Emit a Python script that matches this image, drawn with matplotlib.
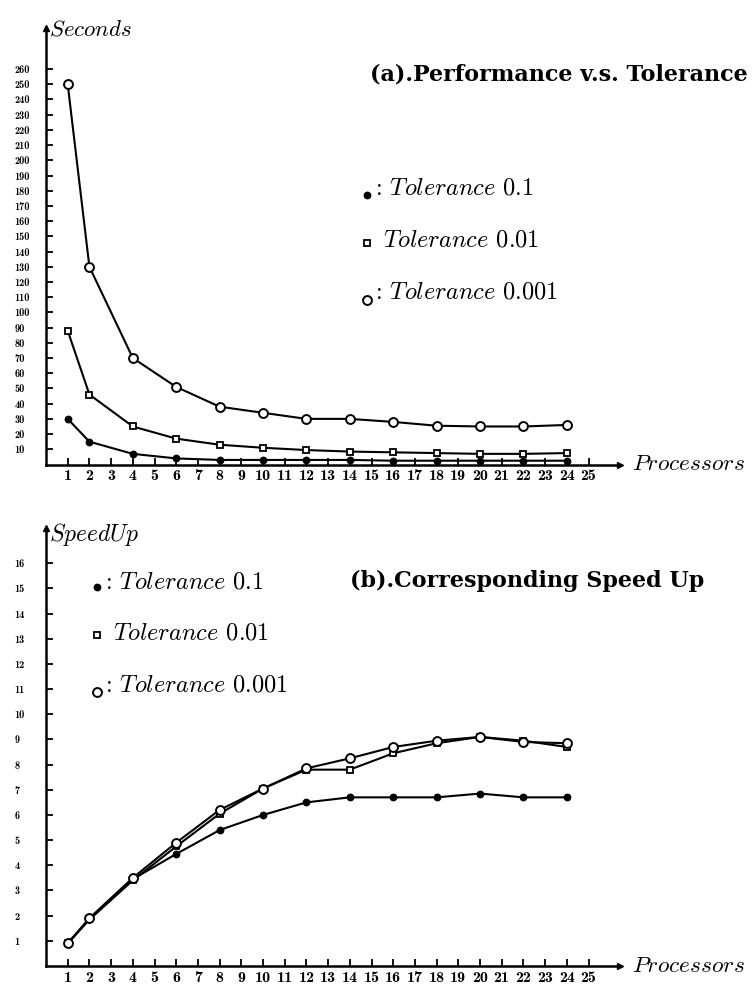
"""
Recreate the two-panel parallel performance figure:
(a) run time vs. processors for three tolerances,
(b) the corresponding speed-up curves.
"""

import matplotlib
matplotlib.use("Agg")
import matplotlib.pyplot as plt

# -- Data ---------------------------------------------------------------------

procs = [1, 2, 4, 6, 8, 10, 12, 14, 16, 18, 20, 22, 24]

sec_tol_1   = [30, 15, 7, 4, 3, 3, 3, 3, 2.5, 2.5, 2.5, 2.5, 2.5]
sec_tol_01  = [88, 46, 25, 17, 13, 11, 9.5, 8.5, 8, 7.5, 7, 7, 7.5]
sec_tol_001 = [250, 130, 70, 51, 38, 34, 30, 30, 28, 25.5, 25, 25, 26]

spd_tol_1   = [0.9, 1.85, 3.45, 4.45, 5.4, 6.0, 6.5, 6.7, 6.7, 6.7, 6.85, 6.7, 6.7]
spd_tol_01  = [0.9, 1.85, 3.4, 4.75, 6.05, 7.05, 7.8, 7.8, 8.45, 8.85, 9.1, 8.95, 8.7]
spd_tol_001 = [0.9, 1.9, 3.5, 4.9, 6.2, 7.05, 7.85, 8.25, 8.7, 8.95, 9.1, 8.9, 8.85]

x_ticks      = list(range(1, 26))
sec_ticks    = list(range(10, 261, 10))
spd_ticks    = list(range(1, 17))
legend_names = ["0.1", "0.01", "0.001"]

# -- Style ---------------------------------------------------------------------

plt.rcParams["mathtext.fontset"] = "cm"
plt.rcParams["font.family"] = ["cmr10", "DejaVu Serif"]
plt.rcParams["axes.unicode_minus"] = False

W, H = 753, 994
TITLE_FONT = dict(family="DejaVu Serif", weight="bold", size=16)


def fx(x, y):
    # pixel position -> figure fraction
    return x / W, 1 - y / H


STYLES = [
    dict(marker="o", ms=4.6, mfc="k", mec="k"),
    dict(marker="s", ms=5.0, mfc="white", mec="k", mew=1.3),
    dict(marker="o", ms=6.4, mfc="white", mec="k", mew=1.4),
]

fig = plt.figure(figsize=(W / 100, H / 100), dpi=100)
ax1 = fig.add_axes([46 / W, 1 - 464.5 / H, 574 / W, 436.5 / H])
ax2 = fig.add_axes([46 / W, 1 - 966 / H, 574 / W, 438 / H])


def style_axes(ax, ymax, yticks):
    ax.set_xlim(0, 26.45)
    ax.set_ylim(0, ymax)
    for s in ["top", "right"]:
        ax.spines[s].set_visible(False)
    for s in ["left", "bottom"]:
        ax.spines[s].set_linewidth(1.8)
    ax.set_xticks(x_ticks)
    ax.set_xticklabels([str(t) for t in x_ticks], fontfamily="cmb10",
                       fontsize=11.5)
    ax.set_yticks(yticks)
    ax.set_yticklabels([str(t) for t in yticks], fontfamily="cmb10",
                       fontsize=7.5, ha="left")
    ax.tick_params(axis="x", direction="in", length=5, width=1.3, pad=3.5)
    ax.tick_params(axis="y", direction="in", length=5, width=1.3, pad=22.5)
    # arrow heads at the end of both axes
    ax.plot([1], [0], marker=">", ms=4.5, color="k", transform=ax.transAxes,
            clip_on=False)
    ax.plot([0], [1], marker="^", ms=4.5, color="k", transform=ax.transAxes,
            clip_on=False)


# -- (a) Seconds ---------------------------------------------------------------

style_axes(ax1, 287, sec_ticks)
for ys, st in zip([sec_tol_1, sec_tol_01, sec_tol_001], STYLES):
    ax1.plot(procs, ys, color="k", lw=1.5, clip_on=False, **st)

# -- (b) Speed up ----------------------------------------------------------------

style_axes(ax2, 17.4, spd_ticks)
for ys, st in zip([spd_tol_1, spd_tol_01, spd_tol_001], STYLES):
    ax2.plot(procs, ys, color="k", lw=1.5, clip_on=False, **st)

# -- Labels, titles, hand-drawn legends ------------------------------------------

fig.text(*fx(49, 30), r"$Seconds$", fontsize=16.5, va="center")
fig.text(*fx(49, 535), r"$SpeedUp$", fontsize=17, va="center")
fig.text(*fx(632, 464), r"$Processors$", fontsize=16.8, va="center")
fig.text(*fx(632, 966), r"$Processors$", fontsize=16.8, va="center")

fig.text(*fx(370, 75), "(a).Performance v.s. Tolerance", va="center",
         **TITLE_FONT)
fig.text(*fx(350, 581), "(b).Corresponding Speed Up", va="center",
         **TITLE_FONT)


def draw_legend(x0, ys_marker, ys_text):
    seps = [":", "", ":"]
    for name, st, ym, yt, sep in zip(legend_names, STYLES, ys_marker,
                                     ys_text, seps):
        fig.lines.append(plt.Line2D([x0 / W], [1 - ym / H], ls="none",
                                    transform=fig.transFigure, color="k",
                                    **st))
        fig.text(*fx(x0 + 8, yt), sep + r" $Tolerance$ " + name,
                 fontsize=17.5, va="center")


draw_legend(367, [195, 243, 300], [188, 240, 292])
draw_legend(97, [587, 635, 692], [582, 633, 685])

plt.savefig("out.png", dpi=100)
